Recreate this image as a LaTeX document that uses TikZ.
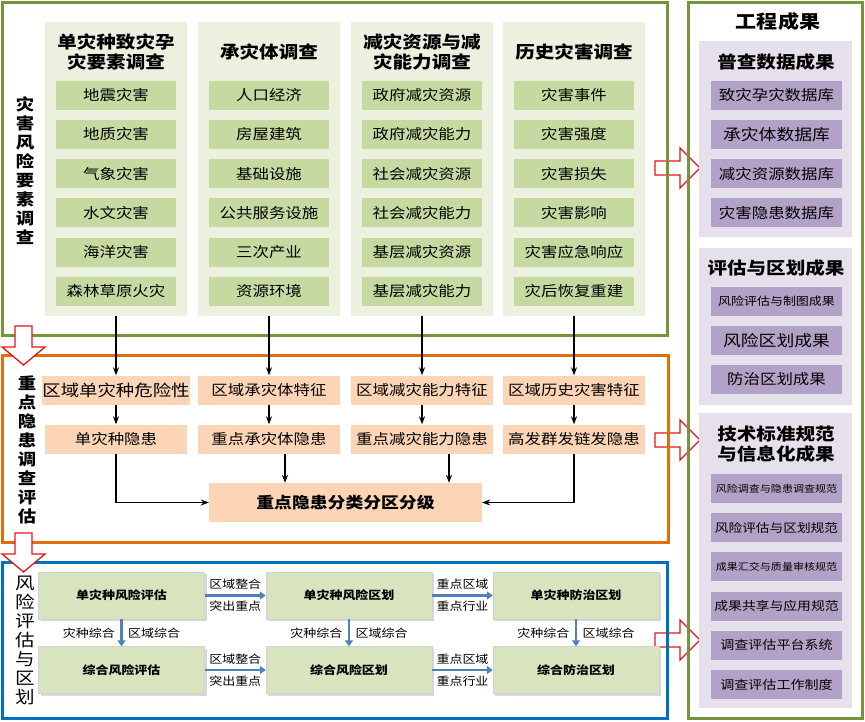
\documentclass[tikz,border=0pt]{standalone}
\usepackage{fontspec}
\setmainfont{Noto Sans CJK SC}[FakeStretch=1.15]
\usepackage{xcolor}
\usepackage{tikz}
\usetikzlibrary{arrows.meta,positioning,shadows,calc}

\definecolor{frgreen}{HTML}{77933C}
\definecolor{pnlgreen}{HTML}{EBF1DE}
\definecolor{itmgreen}{HTML}{C6D9A0}
\definecolor{frorange}{HTML}{E46C0A}
\definecolor{boxorange}{HTML}{FBD5B5}
\definecolor{frblue}{HTML}{0070C0}
\definecolor{boxgreen}{HTML}{D7E4BD}
\definecolor{arblue}{HTML}{4F81BD}
\definecolor{pnlpurple}{HTML}{E6E0EC}
\definecolor{itmpurple}{HTML}{B3A2C7}
\definecolor{arred}{HTML}{E0161B}

\newcommand{\fsz}[2]{\fontsize{#1}{#2}\selectfont}

\begin{document}
\begin{tikzpicture}[x=1pt,y=-1pt,
        frame/.style={line width=3pt},
        panel/.style={fill=pnlgreen, minimum width=142pt, minimum height=294pt, inner sep=0pt},
        ptitle/.style={align=center, inner sep=0pt, font=\fsz{17}{20}\bfseries},
        item/.style={fill=itmgreen, minimum width=120pt, minimum height=29pt, inner sep=0pt, font=\fsz{14.3}{17}},
        obox/.style={fill=boxorange, minimum width=142pt, minimum height=29pt, inner sep=0pt, font=\fsz{14.3}{17}},
        gbox/.style={fill=boxgreen, draw=gray!35, minimum width=166pt, minimum height=47pt, inner sep=0pt,
            font=\fsz{11.3}{14}\bfseries, drop shadow={shadow xshift=2pt, shadow yshift=-2pt, fill=black!30}},
        vlabel/.style={align=center, inner sep=0pt, font=\fsz{16}{19}\bfseries},
        rpanel/.style={fill=pnlpurple, minimum width=153pt, inner sep=0pt},
        ritem/.style={fill=itmpurple, minimum width=131pt, minimum height=29pt, inner sep=0pt},
        conn/.style={-{Stealth[length=8pt,width=6pt]}, line width=1.1pt},
        barrow/.style={-{Triangle[length=6pt,width=8pt]}, line width=2.4pt, draw=arblue},
        blabel/.style={font=\fsz{11.3}{14}, inner sep=1.5pt},
        hollow/.style={draw=arred, line width=1.3pt, fill=white, line join=miter}
    ]

    \fill[white] (0,0) rectangle (865,721);
    \useasboundingbox (0,0) rectangle (865,721);

    % hollow arrows towards the results column
    \foreach \y in {168,440,640}
        \draw[hollow] (655,{\y-7}) -- (680,{\y-7}) -- (680,{\y-20}) -- (700,\y)
            -- (680,{\y+20}) -- (680,{\y+7}) -- (655,{\y+7}) -- cycle;

    % frames
    \draw[frame, frgreen] (2,2) rectangle (667,335);
    \draw[frame, frorange] (2,355) rectangle (668,542);
    \draw[frame, frblue] (2,562) rectangle (667,718);
    \draw[frame, frgreen] (688,2) rectangle (862,718);

    % hollow arrows between the stages
    \foreach \y in {326,533}
        \draw[hollow] (15,\y) -- (32,\y) -- (32,{\y+21}) -- (45,{\y+21}) -- (23.5,{\y+39})
            -- (2,{\y+21}) -- (15,{\y+21}) -- cycle;

    % stage labels
    \node[vlabel] (lb1) at (25,171) {灾\\害\\风\\险\\要\\素\\调\\查};
    \node[vlabel] (lb2) at (27,450) {重\\点\\隐\\患\\调\\查\\评\\估};
    \node[vlabel, font=\fsz{17}{19}] (lb3) at (25,640) {风\\险\\评\\估\\与\\区\\划};

    % survey of risk elements
    \foreach \cx [count=\i] in {116,269,422,574}
        \node[panel] (p\i) at (\cx,169) {};
    \node[ptitle] (t1) at (116,52) {单灾种致灾孕\\灾要素调查};
    \node[ptitle] (t2) at (269,52) {承灾体调查};
    \node[ptitle] (t3) at (422,52) {减灾资源与减\\灾能力调查};
    \node[ptitle] (t4) at (574,52) {历史灾害调查};

    \foreach \cx/\nm/\list in {
        116/a/{地震灾害,地质灾害,气象灾害,水文灾害,海洋灾害,森林草原火灾},
        269/b/{人口经济,房屋建筑,基础设施,公共服务设施,三次产业,资源环境},
        422/c/{政府减灾资源,政府减灾能力,社会减灾资源,社会减灾能力,基层减灾资源,基层减灾能力},
        574/d/{灾害事件,灾害强度,灾害损失,灾害影响,灾害应急响应,灾后恢复重建}}
        \foreach \txt [count=\i] in \list
            \node[item] (\nm\i) at (\cx,{95+39.3*(\i-1)}) {\txt};

    % key hidden danger survey
    \node[obox, font=\fsz{16}{19}] (q1) at (116,390) {区域单灾种危险性};
    \node[obox] (q2) at (269,390) {区域承灾体特征};
    \node[obox] (q3) at (422,390) {区域减灾能力特征};
    \node[obox] (q4) at (574,390) {区域历史灾害特征};
    \node[obox] (h1) at (116,439) {单灾种隐患};
    \node[obox] (h2) at (269,439) {重点承灾体隐患};
    \node[obox] (h3) at (422,439) {重点减灾能力隐患};
    \node[obox] (h4) at (574,439) {高发群发链发隐患};
    \node[obox, minimum width=273pt, minimum height=39pt, font=\fsz{15.5}{18}\bfseries] (fj) at (345.5,502.5) {重点隐患分类分区分级};

    \foreach \i in {1,...,4} {
        \draw[conn] (p\i.south) -- (q\i.north);
        \draw[conn] (q\i.south) -- (h\i.north);
    }
    \draw[conn] (h1.south) |- (fj.west);
    \draw[conn] (h4.south) |- (fj.east);
    \draw[conn] ([xshift=16pt]h2.south) -- ([xshift=16pt]h2.south |- fj.north);
    \draw[conn] ([xshift=27pt]h3.south) -- ([xshift=27pt]h3.south |- fj.north);

    % risk assessment and zoning
    \node[gbox] (s1) at (121.5,595.5) {单灾种风险评估};
    \node[gbox] (s2) at (349,595.5) {单灾种风险区划};
    \node[gbox] (s3) at (576,595.5) {单灾种防治区划};
    \node[gbox] (c1) at (121.5,670) {综合风险评估};
    \node[gbox] (c2) at (349,670) {综合风险区划};
    \node[gbox] (c3) at (576,670) {综合防治区划};

    \foreach \r in {s,c} {
        \draw[barrow] (\r1) -- node[blabel, above=3pt] (\r zh) {区域整合} node[blabel, below=3pt] (\r tc) {突出重点} (\r2);
        \draw[barrow] (\r2) -- node[blabel, above=3pt] (\r qy) {重点区域} node[blabel, below=3pt] (\r hy) {重点行业} (\r3);
    }
    \foreach \i in {1,2,3}
        \draw[barrow] (s\i) -- node[blabel, left=4pt] (zl\i) {灾种综合} node[blabel, right=4pt] (zr\i) {区域综合} (c\i);

    % results column
    \node[inner sep=0pt, font=\fsz{18.3}{21}\bfseries] (gc) at (778,22) {工程成果};
    \node[rpanel, minimum height=196pt] (rp1) at (775.5,139) {};
    \node[rpanel, minimum height=157pt] (rp2) at (775.5,326.5) {};
    \node[rpanel, minimum height=295pt] (rp3) at (775.5,560.5) {};
    \node[ptitle] (rt1) at (776,62) {普查数据成果};
    \node[ptitle] (rt2) at (776,268) {评估与区划成果};
    \node[ptitle] (rt3) at (776,444.5) {技术标准规范\\与信息化成果};

    \foreach \sz/\txt [count=\i] in {14.3/致灾孕灾数据库, 15.5/承灾体数据库, 14.3/减灾资源数据库, 14.3/灾害隐患数据库}
        \node[ritem, font=\fsz{\sz}{17}] (ra\i) at (776.5,{95+39.3*(\i-1)}) {\txt};
    \foreach \sz/\txt [count=\i] in {11.3/风险评估与制图成果, 15.5/风险区划成果, 14.3/防治区划成果}
        \node[ritem, font=\fsz{\sz}{17}] (rb\i) at (776.5,{301+39.3*(\i-1)}) {\txt};
    \foreach \sz/\txt [count=\i] in {9.6/风险调查与隐患调查规范, 11.9/风险评估与区划规范, 9.6/成果汇交与质量审核规范,
            12/成果共享与应用规范, 12.2/调查评估平台系统, 12.2/调查评估工作制度}
        \node[ritem, font=\fsz{\sz}{17}] (rc\i) at (776.5,{488.5+39.2*(\i-1)}) {\txt};

\end{tikzpicture}
\end{document}
